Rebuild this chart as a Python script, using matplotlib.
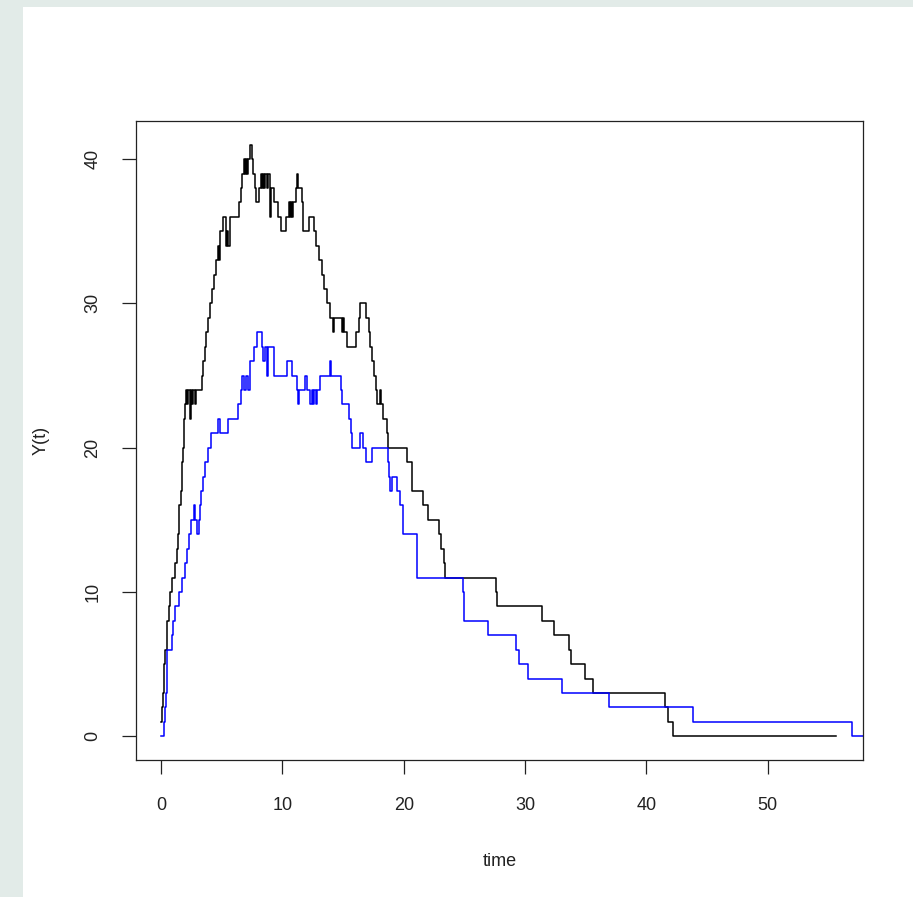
import matplotlib
matplotlib.use('Agg')
import matplotlib.pyplot as plt
from matplotlib.patches import Rectangle

# step paths (time, Y(t))
black_t = [0, 0.1, 0.18, 0.25, 0.35, 0.45, 0.52, 0.62, 0.74, 0.93,
           1.15, 1.3, 1.38, 1.45, 1.51, 1.65, 1.72, 1.76, 1.8, 1.88,
           1.92, 2.0, 2.06, 2.15, 2.25, 2.35, 2.45, 2.55, 2.65, 2.78,
           2.9, 3.35, 3.45, 3.6, 3.7, 3.9, 4.05, 4.18, 4.37, 4.55,
           4.65, 4.75, 4.86, 5.14, 5.36, 5.45, 5.55, 5.7, 6.45, 6.55,
           6.65, 6.8, 6.9, 7.0, 7.1, 7.2, 7.35, 7.45, 7.6, 7.7,
           7.8, 8.08, 8.2, 8.3, 8.4, 8.5, 8.6, 8.7, 8.8, 9.0,
           9.05, 9.3, 9.6, 9.87, 10.28, 10.55, 10.6, 10.7, 10.78, 10.9,
           11.1, 11.24, 11.3, 11.6, 11.73, 12.23, 12.56, 12.75, 13.05, 13.25,
           13.45, 13.66, 13.9, 14.15, 14.25, 14.9, 15.0, 15.1, 15.3, 16.08,
           16.3, 16.4, 16.9, 17.15, 17.23, 17.37, 17.56, 17.72, 17.8, 18.0,
           18.1, 18.28, 18.6, 18.74, 20.3, 20.65, 20.7, 21.6, 22.0, 22.9,
           23.1, 23.3, 23.4, 27.6, 27.7, 31.4, 32.4, 33.6, 33.8, 34.9,
           35.6, 41.5, 41.8, 42.2, 55.6]
black_y = [1, 2, 3, 5, 6, 7, 8, 9, 10, 11,
           12, 13, 14, 15, 16, 17, 18, 19, 20, 21,
           22, 23, 24, 23, 24, 22, 24, 23, 24, 23,
           24, 25, 26, 27, 28, 29, 30, 31, 32, 33,
           34, 33, 35, 36, 34, 35, 34, 36, 37, 38,
           39, 40, 39, 40, 39, 40, 41, 40, 39, 38,
           37, 38, 39, 38, 39, 38, 39, 38, 39, 36,
           38, 37, 36, 35, 36, 37, 36, 37, 36, 37,
           38, 39, 38, 37, 35, 36, 35, 34, 33, 32,
           31, 30, 29, 28, 29, 28, 29, 28, 27, 28,
           29, 30, 29, 28, 27, 26, 25, 24, 23, 24,
           23, 22, 21, 20, 19, 18, 17, 16, 15, 14,
           13, 12, 11, 10, 9, 8, 7, 6, 5, 4,
           3, 2, 1, 0, 0]

blue_t = [0, 0.2, 0.33, 0.41, 0.46, 0.52, 0.88, 1.0, 1.15, 1.48,
          1.71, 1.98, 2.12, 2.31, 2.45, 2.72, 2.8, 2.94, 3.12, 3.2,
          3.27, 3.44, 3.63, 3.9, 4.12, 4.72, 4.85, 5.5, 6.37, 6.55,
          6.65, 6.85, 7.0, 7.2, 7.34, 7.67, 7.94, 8.3, 8.43, 8.57,
          8.71, 8.85, 9.32, 10.36, 10.77, 11.19, 11.3, 11.4, 11.87, 12.0,
          12.28, 12.4, 12.5, 12.6, 12.75, 12.85, 13.1, 13.95, 14.0, 14.85,
          14.9, 15.52, 15.65, 15.72, 16.4, 16.68, 16.88, 17.37, 18.74, 18.8,
          18.9, 19.0, 19.43, 19.7, 19.93, 19.97, 21.08, 21.1, 21.12, 24.92,
          24.94, 24.96, 26.93, 29.27, 29.49, 30.28, 33.08, 36.93, 43.8, 56.94,
          59.0]
blue_y = [0, 1, 2, 3, 4, 6, 7, 8, 9, 10,
          11, 12, 13, 14, 15, 16, 15, 14, 15, 16,
          17, 18, 19, 20, 21, 22, 21, 22, 23, 24,
          25, 24, 25, 24, 26, 27, 28, 27, 26, 27,
          25, 27, 25, 26, 25, 24, 23, 24, 25, 24,
          23, 24, 23, 24, 23, 24, 25, 26, 25, 24,
          23, 22, 21, 20, 21, 20, 19, 20, 19, 18,
          17, 18, 17, 16, 15, 14, 13, 12, 11, 10,
          9, 8, 7, 6, 5, 4, 3, 2, 1, 0,
          0]

x_ticks = [0, 10, 20, 30, 40, 50]
y_ticks = [0, 10, 20, 30, 40]

plt.rcParams['font.family'] = ['Liberation Sans Narrow', 'Liberation Sans', 'DejaVu Sans']

W, H = 913, 897
fig = plt.figure(figsize=(W / 100, H / 100), dpi=100, facecolor='#e2ebe8')
# white page area inside the grey frame (behind the axes)
fig.patches.append(Rectangle((23 / W, 0), 1 - 23 / W, (H - 7) / H,
                             transform=fig.transFigure, facecolor='white',
                             edgecolor='none', zorder=-10))

ax = fig.add_axes([136 / W, 1 - 760 / H, (863 - 136) / W, (760 - 121) / H])
ax.set_facecolor('white')

ax.step(black_t, black_y, where='post', color='black', lw=1.1)
ax.step(blue_t, blue_y, where='post', color='#0000ff', lw=1.1)

ax.set_xlim(-2.07, 57.85)
ymax = max(black_y)
ax.set_ylim(-0.04 * ymax, 1.04 * ymax)

ax.set_xticks(x_ticks)
ax.set_yticks(y_ticks)
ax.tick_params(axis='both', direction='out', length=10, width=0.9,
               color='#222222', labelsize=13, labelcolor='#222222')
ax.tick_params(axis='x', pad=17)
ax.tick_params(axis='y', pad=15)
for lab in ax.get_yticklabels():
    lab.set_rotation(90)
    lab.set_va('center')
for sp in ax.spines.values():
    sp.set_linewidth(0.9)
    sp.set_color('#222222')

ax.set_xlabel('time', fontsize=13, color='#222222', labelpad=28)
ax.set_ylabel('Y(t)', fontsize=13, color='#222222', labelpad=25)

fig.savefig('out.png', dpi=100, facecolor=fig.get_facecolor())
